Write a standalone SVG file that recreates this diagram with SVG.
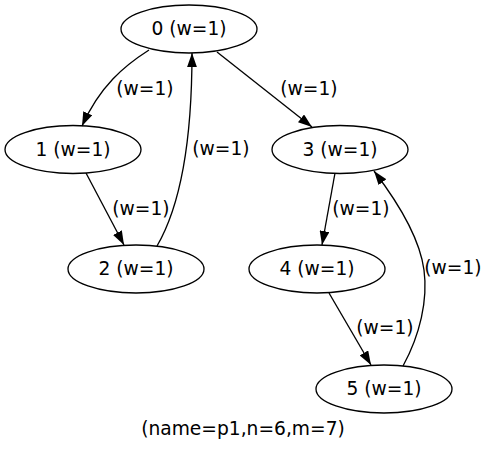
<svg xmlns="http://www.w3.org/2000/svg" width="487" height="452" viewBox="0 0 487 452">
<style>
text{font-family:"DejaVu Sans",sans-serif;font-size:18.67px;text-anchor:middle;fill:#000}
ellipse{fill:none;stroke:#000;stroke-width:1.33}
.e path{fill:none;stroke:#000;stroke-width:1.33;marker-end:url(#ah)}
</style>
<defs>
<marker id="ah" markerUnits="userSpaceOnUse" markerWidth="14" markerHeight="10" viewBox="0 0 13.3 9.33" refX="13.3" refY="4.67" orient="auto">
<path d="M0,0 L13.3,4.67 L0,9.33 z" fill="#000"/>
</marker>
</defs>
<rect width="487" height="452" fill="#fff"/>
<g id="edges" class="e">
<path d="M149,50 C124,66 100,86 82,126"/>
<path d="M217,52 L312,127"/>
<path d="M86,173 L124,245"/>
<path d="M157,246 C178,210 192,150 192,53"/>
<path d="M335,173 L322,245"/>
<path d="M329,293 L371,365"/>
<path d="M403,366 C420,335 428,300 424,270 C420,240 400,205 374,171"/>
<text x="145" y="95">(w=1)</text>
<text x="309" y="95">(w=1)</text>
<text x="221" y="155">(w=1)</text>
<text x="141" y="215">(w=1)</text>
<text x="361" y="215">(w=1)</text>
<text x="385" y="334">(w=1)</text>
<text x="453" y="274">(w=1)</text>
</g>
<g id="node0"><ellipse cx="189" cy="29" rx="68" ry="24"/><text x="189" y="35">0 (w=1)</text></g>
<g id="node1"><ellipse cx="73" cy="149.5" rx="68" ry="24"/><text x="73" y="155.5">1 (w=1)</text></g>
<g id="node2"><ellipse cx="136" cy="269" rx="68" ry="24"/><text x="136" y="275">2 (w=1)</text></g>
<g id="node3"><ellipse cx="340" cy="149.5" rx="68" ry="24"/><text x="340" y="155.5">3 (w=1)</text></g>
<g id="node4"><ellipse cx="317" cy="269" rx="68" ry="24"/><text x="317" y="275">4 (w=1)</text></g>
<g id="node5"><ellipse cx="384" cy="389" rx="68" ry="24"/><text x="384" y="395">5 (w=1)</text></g>
<text x="243" y="435">(name=p1,n=6,m=7)</text>
</svg>
